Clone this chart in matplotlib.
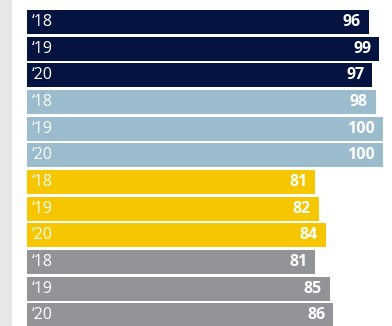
import matplotlib
matplotlib.use("Agg")
from matplotlib import pyplot as plt

years = ["\u201818", "\u201819", "\u201820"]
group_values = [
    [96, 99, 97],
    [98, 100, 100],
    [81, 82, 84],
    [81, 85, 86],
]
group_colors = ["#04133f", "#9bbccd", "#f6c700", "#939497"]

labels = years * len(group_values)
values = [v for grp in group_values for v in grp]
colors = [c for c, grp in zip(group_colors, group_values) for _ in grp]

plt.rcParams["font.family"] = ["Open Sans", "DejaVu Sans"]

fig = plt.figure(figsize=(3.92, 3.26), dpi=100)
ax = fig.add_axes([0, 0, 1, 1])

px = 3.56  # pixels per unit on the x axis
x_left = -27 / px
x_right = (392 - 27) / px
ax.set_xlim(x_left, x_right)

pitch = 26.67
ax.set_ylim((326 - 22) / pitch, -22 / pitch)

# light side strip
ax.axvspan(x_left, x_left + 12 / px, color="#e6e7e8", lw=0)

pos = list(range(len(values)))
ax.barh(pos, values, height=24 / pitch, color=colors, left=0)

for i, (lab, v) in enumerate(zip(labels, values)):
    ax.text(5 / px, i, lab, color="white", fontsize=11.5,
            va="center", ha="left")
    ax.text(v - 8 / px, i, str(v), color="white", fontsize=11.5,
            fontweight="bold", va="center", ha="right")

ax.axis("off")
fig.savefig("out.png", dpi=100)
